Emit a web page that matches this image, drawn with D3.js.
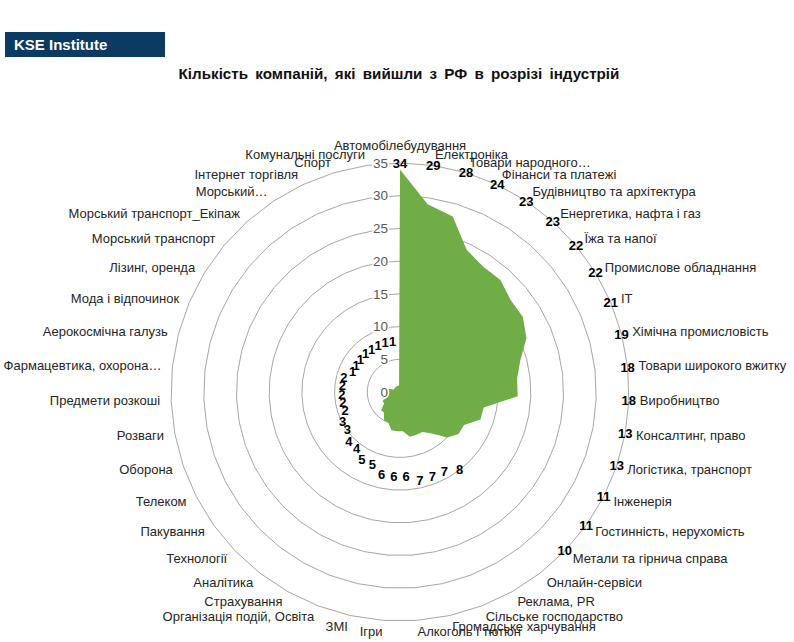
<!DOCTYPE html>
<html>
<head>
<meta charset="utf-8">
<script src="https://cdn.jsdelivr.net/npm/d3@7"></script>
<style>
  body { margin: 0; background: #fff; }
  svg { display: block; font-family: "Liberation Sans", Arial, sans-serif; }
</style>
</head>
<body>
<svg width="794" height="642"></svg>
<script>
const categories = [
  "Автомобілебудування", "Електроніка", "Товари народного…", "Фінанси та платежі",
  "Будівництво та архітектура", "Енергетика, нафта і газ", "Їжа та напої",
  "Промислове обладнання", "IT", "Хімічна промисловість", "Товари широкого вжитку",
  "Виробництво", "Консалтинг, право", "Логістика, транспорт", "Інженерія",
  "Гостинність, нерухомість", "Метали та гірнича справа", "Онлайн-сервіси",
  "Реклама, PR", "Сільське господарство", "Громадське харчування", "Алкоголь і тютюн",
  "Ігри", "ЗМІ", "Організація подій, Освіта", "Страхування", "Аналітика", "Технології",
  "Пакування", "Телеком", "Оборона", "Розваги", "Предмети розкоші",
  "Фармацевтика, охорона…", "Аерокосмічна галузь", "Мода і відпочинок", "Лізинг, оренда",
  "Морський транспорт", "Морський транспорт_Екіпаж", "Морський…", "Інтернет торгівля",
  "Спорт", "Комунальні послуги"
];
const values = [
  34, 29, 28, 24, 23, 23, 22, 22, 21, 19, 18, 18, 13, 13, 11, 11, 10, 8,
  7, 7, 7, 6, 6, 6, 5, 5, 4, 4, 3, 3, 2, 2, 2, 2, 2, 1, 1, 1, 1, 1, 1, 1, 1
];
const ticks = [0, 5, 10, 15, 20, 25, 30, 35];

const cx = 400, cy = 392, R = 229, labelR = 240;

const svg = d3.select("svg");

// header box
svg.append("rect").attr("x", 5).attr("y", 32).attr("width", 160).attr("height", 25).attr("fill", "#0b3a63");
svg.append("text").attr("x", 14).attr("y", 50).attr("fill", "#fff")
  .attr("font-size", 15).attr("font-weight", "bold").text("KSE Institute");

svg.append("text").attr("x", 399).attr("y", 79).attr("text-anchor", "middle")
  .attr("font-size", 15.2).attr("font-weight", "bold").attr("fill", "#111")
  .attr("word-spacing", 3)
  .text("Кількість компаній, які вийшли з РФ в розрізі індустрій");

const rScale = d3.scaleLinear().domain([0, 35]).range([0, R]);
const angle = d3.scaleLinear().domain([0, categories.length]).range([0, 2 * Math.PI]);

const chart = svg.append("g").attr("transform", `translate(${cx},${cy})`);

// grid rings
const ring = d3.lineRadial()
  .angle((d, i) => angle(i))
  .curve(d3.curveLinearClosed);

chart.selectAll(".ring")
  .data(ticks.filter(t => t > 0))
  .join("path")
  .attr("d", t => ring.radius(rScale(t))(categories))
  .attr("fill", "none")
  .attr("stroke", "#a6a6a6")
  .attr("stroke-width", 1);

// area
const area = d3.lineRadial()
  .angle((d, i) => angle(i))
  .radius(d => rScale(d))
  .curve(d3.curveLinearClosed);

chart.append("path")
  .attr("d", area(values))
  .attr("fill", "#70ad47");

// axis tick labels
chart.selectAll(".tick")
  .data(ticks)
  .join("text")
  .attr("x", -12)
  .attr("y", t => -rScale(t))
  .attr("dy", "0.35em")
  .attr("text-anchor", "end")
  .attr("font-size", 13.5)
  .attr("fill", "#595959")
  .attr("stroke", "#fff").attr("stroke-width", 3).attr("paint-order", "stroke")
  .text(t => t);

// category labels
chart.selectAll(".cat")
  .data(categories)
  .join("text")
  .attr("x", (d, i) => Math.sin(angle(i)) * labelR)
  .attr("y", (d, i) => -Math.cos(angle(i)) * labelR - (i === 0 ? 7 : 0))
  .attr("dy", "0.35em")
  .attr("text-anchor", (d, i) => {
    const s = Math.sin(angle(i));
    return s > 0.05 ? "start" : s < -0.05 ? "end" : "middle";
  })
  .attr("font-size", 13)
  .attr("fill", "#262626")
  .text(d => d);

// value labels
chart.selectAll(".val")
  .data(values)
  .join("text")
  .attr("x", (d, i) => Math.sin(angle(i)) * (d >= 10 ? R : rScale(d) + 45))
  .attr("y", (d, i) => -Math.cos(angle(i)) * (d >= 10 ? R : rScale(d) + 45))
  .attr("dy", "0.35em")
  .attr("text-anchor", "middle")
  .attr("font-size", 13)
  .attr("font-weight", "bold")
  .attr("fill", "#000")
  .text(d => d);
</script>
</body>
</html>
